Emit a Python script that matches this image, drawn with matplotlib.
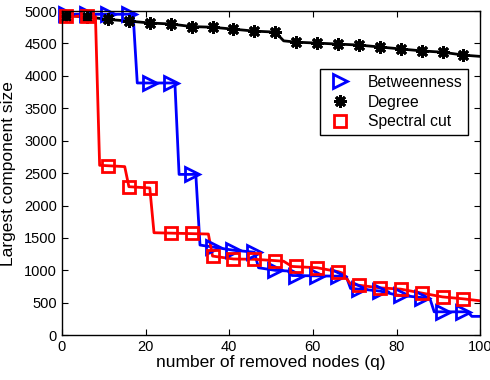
import numpy as np
import matplotlib
matplotlib.use("Agg")
import matplotlib.pyplot as plt

plt.rcParams['font.family'] = ['Liberation Sans', 'DejaVu Sans']

# marker positions (every 5 removed nodes)
q_marks = [1, 6, 11, 16, 21, 26, 31, 36, 41, 46, 51, 56, 61, 66, 71, 76, 81, 86, 91, 96]

# Betweenness
btw_q = [1, 17, 18, 27, 28, 32, 33, 36, 41, 46, 47, 51, 54, 55, 66, 68, 69, 73, 76, 80, 86, 88, 89, 97, 98, 100]
btw_v = [4950, 4950, 3890, 3890, 2480, 2480, 1390, 1360, 1310, 1280, 1040, 1000, 990, 920, 910, 900,
         720, 700, 680, 620, 580, 560, 360, 360, 290, 290]
btw_m = [4950, 4950, 4950, 4950, 3890, 3890, 2480, 1360, 1310, 1280, 1000, 920, 920, 910, 710, 680,
         620, 580, 360, 360]

# Degree
deg_q = [1, 6, 11, 16, 21, 26, 31, 36, 41, 46, 51, 53, 56, 61, 66, 71, 76, 81, 86, 91, 96, 100]
deg_v = [4930, 4910, 4870, 4845, 4815, 4800, 4760, 4750, 4720, 4690, 4675, 4540, 4520, 4505, 4490,
         4475, 4445, 4415, 4385, 4365, 4320, 4300]
deg_m = [4930, 4910, 4870, 4845, 4815, 4800, 4760, 4750, 4720, 4690, 4675, 4520, 4505, 4490, 4475,
         4445, 4415, 4385, 4365, 4320]

# Spectral cut
spc_q = [1, 8, 9, 15, 16, 21, 22, 35, 36, 41, 46, 51, 53, 55, 61, 66, 67, 69, 71, 76, 81, 86, 91, 96, 100]
spc_v = [4920, 4920, 2620, 2600, 2290, 2270, 1580, 1560, 1220, 1175, 1170, 1150, 1140, 1060, 1040,
         980, 960, 790, 770, 730, 710, 650, 590, 560, 530]
spc_m = [4920, 4920, 2610, 2290, 2270, 1570, 1570, 1220, 1175, 1170, 1150, 1060, 1040, 980, 770,
         730, 710, 650, 590, 560]

fig = plt.figure(figsize=(4.9, 3.8), dpi=100)
ax = fig.add_axes([0.1265, 0.118, 0.8535, 0.853])

ax.plot(btw_q, btw_v, color='b', lw=2)
ax.plot(deg_q, deg_v, color='k', lw=2)
ax.plot(spc_q, spc_v, color='r', lw=2)

# markers drawn separately so the legend shows markers only
ax.plot(q_marks, btw_m, ls='none', marker='>', ms=10, mfc='none', mec='b', mew=2,
        clip_on=False, label='Betweenness')
ax.plot(q_marks, deg_m, ls='none', marker=(8, 2, 0), ms=9, mec='k', mew=2,
        clip_on=False, label='Degree')
ax.plot(q_marks, spc_m, ls='none', marker='s', ms=9, mfc='none', mec='r', mew=2,
        clip_on=False, label='Spectral cut')

ax.set_xlim(0, 100)
ax.set_ylim(0, 5000)
ax.set_xticks(np.arange(0, 101, 20))
ax.set_yticks(np.arange(0, 5001, 500))
ax.tick_params(direction='in', top=True, right=True, labelsize=10.5, length=4)
ax.set_xlabel('number of removed nodes (q)', fontsize=12.5, labelpad=1)
ax.set_ylabel('Largest component size', fontsize=12.5, labelpad=6)
for s in ax.spines.values():
    s.set_linewidth(1)

leg = ax.legend(loc='upper left', bbox_to_anchor=(0.617, 0.82), fontsize=11.3, frameon=True,
                fancybox=False, edgecolor='k', framealpha=1, handlelength=1.9,
                borderpad=0.35, labelspacing=0.3, handletextpad=0.8, borderaxespad=0)
leg.get_frame().set_linewidth(1)

fig.savefig('out.png', dpi=100)
